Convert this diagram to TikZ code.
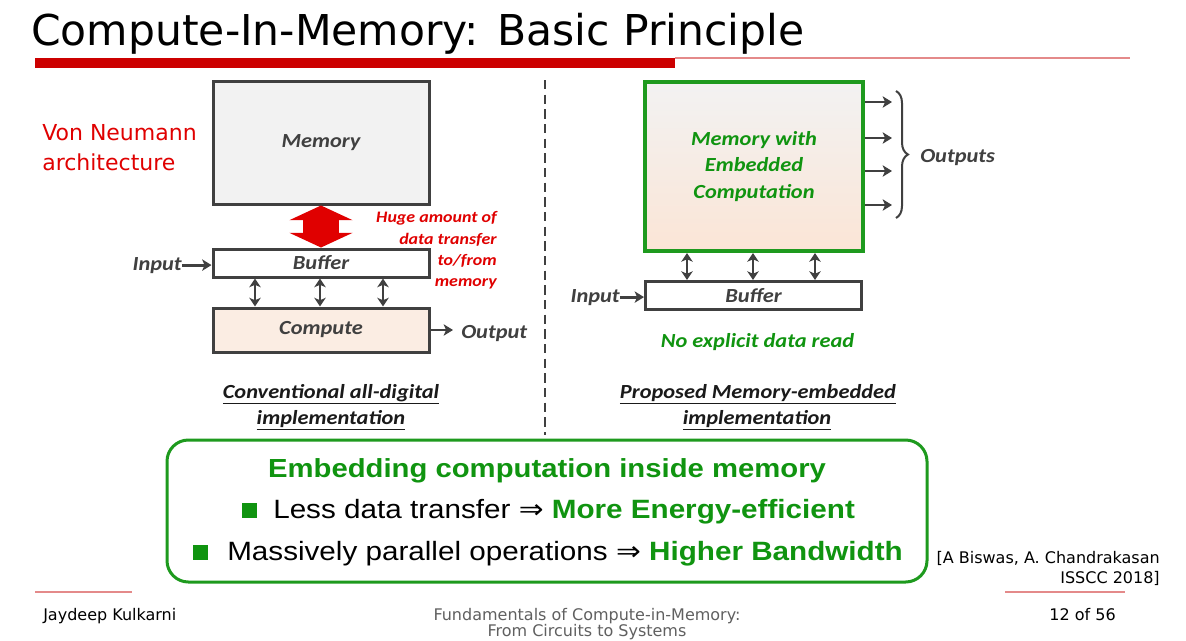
\documentclass[tikz,border=0pt]{standalone}
\usepackage{fontspec}
\usepackage{graphicx}
\usetikzlibrary{arrows.meta,decorations.pathreplacing,calc}
\setmainfont{DejaVu Sans}
\newfontfamily\carl{Carlito}
\newfontfamily\libs{Liberation Sans}
\newfontfamily\dv{DejaVu Sans}
\newcommand\sx[1]{\scalebox{1.12}[1]{#1}}
\definecolor{dgray}{HTML}{404040}
\definecolor{vred}{HTML}{E00000}
\definecolor{barred}{HTML}{CC0000}
\definecolor{thinred}{HTML}{E48A8A}
\definecolor{cgreen}{HTML}{1E9A1E}
\definecolor{tgreen}{HTML}{109410}
\definecolor{memfill}{HTML}{F2F2F2}
\definecolor{cmpfill}{HTML}{FBEDE3}
\definecolor{peach}{HTML}{FBE5D6}
\definecolor{capblack}{HTML}{1A1A1A}
\definecolor{footgray}{HTML}{606060}
\tikzset{
  lbl/.style={inner sep=0pt, text=dgray, font=\carl\bfseries\itshape\fontsize{15}{18}\selectfont},
  boxL/.style={draw=dgray, line width=2.25pt, inner sep=0pt, lbl},
  captxt/.style={inner sep=0pt, text=capblack, font=\carl\bfseries\itshape\fontsize{15}{18}\selectfont},
  redtxt/.style={inner sep=0pt, text=vred, font=\carl\bfseries\itshape\fontsize{12}{15}\selectfont},
  arr/.style={draw=dgray, line width=2.2pt, -{Stealth[length=7pt,width=8.5pt,inset=1.8pt]}},
  darr/.style={draw=dgray, line width=2.2pt, {Stealth[length=6.5pt,width=8.5pt,inset=1.8pt]}-{Stealth[length=6.5pt,width=8.5pt,inset=1.8pt]}},
  bullet/.style={fill=tgreen, minimum size=11.25pt, inner sep=0pt},
  bodytxt/.style={inner sep=0pt, text=black, font=\libs\fontsize{19.85}{22}\selectfont},
  foot/.style={inner sep=0pt, font=\dv\fontsize{12}{14}\selectfont},
}
\begin{document}
\begin{tikzpicture}[x=0.75pt,y=-0.75pt]
\path[use as bounding box, clip] (0,0) rectangle (1186,640);
\fill[white] (0,0) rectangle (1186,640);

% title and bars
\node[anchor=base west, inner sep=0pt] (title) at (31,45)
  {\resizebox{579.75pt}{!}{\dv\fontsize{33}{40}\selectfont Compute-In-Memory: Basic Principle}};
\fill[barred] (35,57.5) rectangle (675,68);
\draw[thinred, line width=1.1pt] (675,58) -- (1130,58);

% Von Neumann label
\node[anchor=base west, inner sep=0pt, text=vred, font=\dv\fontsize{16.5}{20}\selectfont] (vn1) at (42,140) {Von Neumann};
\node[anchor=base west, inner sep=0pt, text=vred, font=\dv\fontsize{16.5}{20}\selectfont] (vn2) at (42,170) {architecture};

% left architecture
\node[boxL, fill=memfill, minimum width=162pt, minimum height=92.25pt] (memL) at (321,142.5) {\sx{Memory}};
\node[boxL, fill=white, minimum width=162pt, minimum height=21pt] (bufL) at (321,263) {\sx{Buffer}};
\node[boxL, fill=cmpfill, minimum width=162pt, minimum height=33pt] (cmpL) at (321,330) {\sx{Compute}};

\draw[vred, line width=27.5pt, {Triangle[width=47pt,length=11pt]}-{Triangle[width=47pt,length=11pt]}] (memL.south) -- (bufL.north);

\node[redtxt, anchor=base east] (hg1) at (497,222) {\sx{Huge amount of}};
\node[redtxt, anchor=base east] (hg2) at (497,244) {\sx{data transfer}};
\node[redtxt, anchor=base east] (hg3) at (497,265) {\sx{to/from}};
\node[redtxt, anchor=base east] (hg4) at (497,286) {\sx{memory}};

\node[lbl, anchor=base east] (inL) at (182,270) {\sx{Input}};
\draw[arr] (inL.east) -- (inL.east -| bufL.west);
\node[lbl, anchor=base west] (outL) at (461,338) {\sx{Output}};
\draw[arr, shorten >=6pt] (cmpL.east) -- (cmpL.east -| outL.west);

\foreach \xx in {255,320,383} {
  \draw[darr] (bufL.south -| \xx,0) -- (cmpL.north -| \xx,0);
}

\node[captxt, anchor=base] (capL1) at (331,398) {\sx{\underline{Conventional all-digital}}};
\node[captxt, anchor=base] (capL2) at (331,424) {\sx{\underline{implementation}}};

% divider
\coordinate (d1) at (545,80);
\coordinate (d2) at (545,435);
\draw[dgray, line width=1.1pt, dash pattern=on 7pt off 4pt] (d1) -- (d2);

% right architecture
\node[draw=cgreen, line width=3pt, top color=memfill, bottom color=peach, minimum width=163.5pt, minimum height=126.75pt, inner sep=0pt, align=center, text=tgreen, font=\carl\bfseries\itshape\fontsize{15}{19.9}\selectfont] (memR) at (754,166.5)
  {\sx{Memory with}\\\sx{Embedded}\\\sx{Computation}};
\node[boxL, fill=white, minimum width=162pt, minimum height=21pt] (bufR) at (753.5,295.5) {\sx{Buffer}};

\foreach \xx in {687,753,815} {
  \draw[darr] (memR.south -| \xx,0) -- (bufR.north -| \xx,0);
}

\foreach \yy [count=\i] in {102,138,171,205} {
  \coordinate (o\i) at (892,\yy);
  \draw[arr] (o\i -| memR.east) -- (o\i);
}
\coordinate (br1) at (896,91);
\coordinate (br2) at (896,218);
\draw[dgray, line width=1.5pt, decorate, decoration={brace, amplitude=9pt}] (br1) -- (br2);
\node[lbl, anchor=base west] (outs) at (920,162) {\sx{Outputs}};

\node[lbl, anchor=base east] (inR) at (620,302) {\sx{Input}};
\draw[arr] (inR.east) -- (inR.east -| bufR.west);

\node[inner sep=0pt, anchor=base, text=tgreen, font=\carl\bfseries\itshape\fontsize{15}{18}\selectfont] (noread) at (757.5,347) {\sx{No explicit data read}};

\node[captxt, anchor=base] (capR1) at (758,398) {\sx{\underline{Proposed Memory-embedded}}};
\node[captxt, anchor=base] (capR2) at (757,424) {\sx{\underline{implementation}}};

% summary box
\node[draw=cgreen, line width=2.25pt, rounded corners=16pt, minimum width=570pt, minimum height=106.5pt, inner sep=0pt] (sumbox) at (547,511) {};
\node[inner sep=0pt, anchor=base, text=tgreen, font=\libs\bfseries\fontsize{19.6}{22}\selectfont] (h1) at (547,477) {\sx{Embedding computation inside memory}};
\node[bullet] (sq1) at (249.5,510.5) {};
\node[bodytxt, anchor=base west] (l2) at (273,518) {\sx{Less data transfer {\dv ⇒} {\bfseries\color{tgreen}More Energy-efficient}}};
\node[bullet] (sq2) at (200.5,552.5) {};
\node[bodytxt, anchor=base west] (l3) at (227,560) {\sx{Massively parallel operations {\dv ⇒} {\bfseries\color{tgreen}Higher Bandwidth}}};

% citation
\node[foot, anchor=base east] (cit1) at (1160,563) {[A Biswas, A. Chandrakasan};
\node[foot, anchor=base east] (cit2) at (1160,583) {ISSCC 2018]};

% footer
\draw[thinred, line width=0.9pt] (35,592) -- (132,592);
\draw[thinred, line width=0.9pt] (1005,592) -- (1125,592);
\node[foot, anchor=base west] (author) at (43,620) {Jaydeep Kulkarni};
\node[foot, anchor=base, text=footgray] (ft1) at (587,620) {Fundamentals of Compute-in-Memory:};
\node[foot, anchor=base, text=footgray] (ft2) at (587,636) {From Circuits to Systems};
\node[foot, anchor=base east] (page) at (1116,620) {12 of 56};
\end{tikzpicture}
\end{document}
